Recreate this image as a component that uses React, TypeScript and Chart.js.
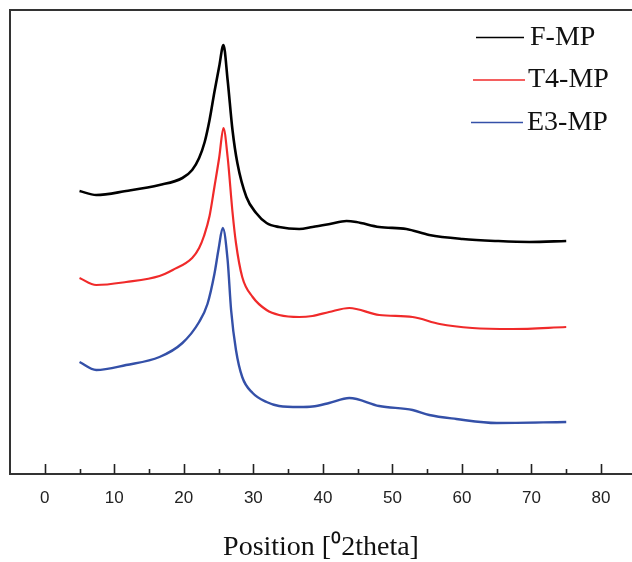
import { useEffect, useRef } from "react";
import { Chart, registerables } from "chart.js";

Chart.register(...registerables);

// 2theta positions (degrees) and intensities (a.u.)
const fmpPos = [5, 7.4, 11.7, 16.5, 19.8, 21.2, 22.2, 23.0, 23.7, 24.4, 25.1, 25.7, 26.3, 27.0, 27.7, 29.0, 30.4, 31.9, 33.7, 36.6, 38.5, 41.0, 43.4, 44.8, 48.1, 52.0, 55.3, 60.1, 65.0, 69.7, 75];
const fmpInt = [283, 279, 283, 289, 296, 304, 316, 332, 354, 382, 408, 429, 394, 344, 311, 277, 261, 251, 247, 245, 247, 250, 253, 252, 247, 245, 239, 235, 233, 232, 233];

const t4Pos = [5, 7.4, 11.7, 16.5, 18.4, 21.2, 22.2, 22.9, 23.7, 24.4, 25.1, 25.7, 26.3, 27.0, 27.5, 28.4, 29.9, 31.9, 33.7, 36.6, 38.5, 40.9, 43.8, 48.1, 52.9, 56.8, 61.5, 67.3, 75];
const t4Int = [196, 189, 192, 198, 204, 216, 226, 238, 258, 287, 317, 346, 317, 262, 231, 197, 177, 164, 159, 157, 158, 162, 166, 159, 157, 150, 146, 145, 147];

const e3Pos = [5, 7.4, 11.7, 16.5, 19.8, 22.2, 23.4, 24.4, 25.0, 25.6, 26.3, 26.8, 27.5, 28.4, 29.9, 31.9, 33.7, 36.6, 38.5, 40.9, 43.8, 48.1, 52.9, 55.3, 59.2, 65.0, 75];
const e3Int = [112, 104, 109, 117, 131, 152, 170, 200, 225, 246, 214, 164, 124, 97, 81, 72, 68, 67, 67.5, 71, 76, 68, 64, 59, 55, 51, 52];

const seriesNames = ["F-MP", "T4-MP", "E3-MP"];
const seriesColors = ["#000000", "#f02a2a", "#3450a8"];
const majorTicks = [0, 10, 20, 30, 40, 50, 60, 70, 80];
const minorTicks = [5, 15, 25, 35, 45, 55, 65, 75];
const axisTitle = "Position [\u20702theta]";

const toPoints = (xs: number[], ys: number[]) => xs.map((x, i) => ({ x, y: ys[i] }));

const framePlugin = {
  id: "frame",
  afterDraw(chart: any) {
    const { ctx, chartArea: a } = chart;
    const x = chart.scales.x;
    ctx.save();
    ctx.strokeStyle = "#333333";
    ctx.lineWidth = 2;
    ctx.beginPath();
    ctx.moveTo(a.right + 2, a.top);
    ctx.lineTo(a.left, a.top);
    ctx.lineTo(a.left, a.bottom);
    ctx.lineTo(a.right + 2, a.bottom);
    ctx.stroke();
    ctx.lineWidth = 1.6;
    ctx.strokeStyle = "#222222";
    ctx.beginPath();
    majorTicks.forEach((v) => {
      const px = Math.round(x.getPixelForValue(v)) + 0.5;
      ctx.moveTo(px, a.bottom);
      ctx.lineTo(px, a.bottom - 10);
    });
    minorTicks.forEach((v) => {
      const px = Math.round(x.getPixelForValue(v)) + 0.5;
      ctx.moveTo(px, a.bottom);
      ctx.lineTo(px, a.bottom - 5);
    });
    ctx.stroke();

    // legend
    const items = [
      { x1: 476, x2: 524, y: 37.5, tx: 530 },
      { x1: 473, x2: 525, y: 80, tx: 528 },
      { x1: 471, x2: 523, y: 122.5, tx: 527 },
    ];
    ctx.font = '28px "Liberation Serif", "Times New Roman", serif';
    ctx.textBaseline = "alphabetic";
    ctx.textAlign = "left";
    items.forEach((it, i) => {
      ctx.strokeStyle = seriesColors[i];
      ctx.lineWidth = 1.3;
      ctx.beginPath();
      ctx.moveTo(it.x1, it.y);
      ctx.lineTo(it.x2, it.y);
      ctx.stroke();
      ctx.fillStyle = "#111111";
      ctx.fillText(seriesNames[i], it.tx, it.y + 7);
    });
    ctx.restore();
  },
};

export default function App() {
  const ref = useRef<HTMLCanvasElement | null>(null);
  useEffect(() => {
    if (!ref.current) return;
    const chart = new Chart(ref.current, {
      type: "line",
      data: {
        datasets: [
          { label: seriesNames[0], data: toPoints(fmpPos, fmpInt), borderColor: seriesColors[0], borderWidth: 2.6 },
          { label: seriesNames[1], data: toPoints(t4Pos, t4Int), borderColor: seriesColors[1], borderWidth: 2.2 },
          { label: seriesNames[2], data: toPoints(e3Pos, e3Int), borderColor: seriesColors[2], borderWidth: 2.4 },
        ].map((d) => ({ ...d, pointRadius: 0, fill: false, cubicInterpolationMode: "monotone" as const })),
      },
      options: {
        animation: false,
        responsive: true,
        maintainAspectRatio: false,
        layout: { padding: { left: 10, top: 10, right: 0, bottom: 0 } },
        plugins: { legend: { display: false }, tooltip: { enabled: false } },
        scales: {
          x: {
            type: "linear",
            min: -5,
            max: 84.46,
            grid: { display: false, drawTicks: false },
            border: { display: false },
            afterBuildTicks: (scale: any) => {
              scale.ticks = majorTicks.map((value) => ({ value }));
            },
            afterFit: (scale: any) => {
              scale.height = 88;
            },
            ticks: {
              autoSkip: false,
              maxRotation: 0,
              padding: 14,
              color: "#222222",
              font: { family: '"Liberation Sans", Arial, sans-serif', size: 17 },
            },
            title: {
              display: true,
              text: axisTitle,
              color: "#111111",
              font: { family: '"Liberation Serif", "Times New Roman", serif', size: 28, lineHeight: 1 },
              padding: { top: 0, bottom: 0 },
            },
          },
          y: {
            display: false,
            min: 0,
            max: 464,
          },
        },
      },
      plugins: [framePlugin],
    });
    return () => chart.destroy();
  }, []);
  return (
    <div style={{ position: "fixed", left: 0, top: 0, width: 632, height: 562, background: "#fff" }}>
      <canvas ref={ref} />
    </div>
  );
}
